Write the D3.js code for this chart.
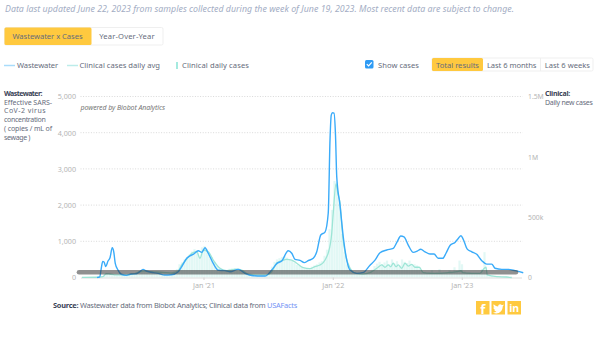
<!DOCTYPE html>
<html><head><meta charset="utf-8">
<script src="https://cdn.jsdelivr.net/npm/d3@7/dist/d3.min.js"></script>
<style>
html,body{margin:0;padding:0;background:#fff;overflow:hidden}
svg{display:block}
text{font-family:"Noto Sans",sans-serif}
</style></head><body><svg id="c" width="600" height="360"></svg>
<script>
const titleText="Data last updated June 22, 2023 from samples collected during the week of June 19, 2023. Most recent data are subject to change.";
const tabLabels=["Wastewater x Cases","Year-Over-Year"];
const legendLabels=["Wastewater","Clinical cases daily avg","Clinical daily cases"];
const rangeLabels=["Total results","Last 6 months","Last 6 weeks"];
const leftTicks=[0,1000,2000,3000,4000,5000];
const rightTicks=[0,500000,1000000,1500000];
const rightTickLabels=["0","500k","1M","1.5M"];
const xTickWeeks=[48.6,100.3,151.9];
const xTickLabels=["Jan '21","Jan '22","Jan '23"];
const leftNote=["Effective SARS-","CoV-2 virus","concentration","( copies / mL of","sewage )"];
const leftNoteWidths=[48,42,41.5,48,26];
const bandLevel=145;

// x = weeks since late January 2020
const wwWeeks=[6,6.4,7.1,7.7,8.3,8.8,9.5,10.4,11.2,12.1,12.7,13.3,14.4,15.7,17.7,19.7,21.7,23.1,24.4,25.7,27.7,30.4,33.1,35.7,38.5,39.9,41.9,43.2,44.5,46.5,47.9,49.2,50.5,52.5,54.5,57.2,59.2,62.5,65.2,68.5,71.9,73.2,75.9,78,79.9,82.5,83.9,85.2,87.2,88.9,90.5,92.5,93.9,95.5,97.2,98.5,99.2,99.7,100.2,100.8,101.4,101.9,103.2,104.5,105.9,107.2,109.9,112.5,115.2,117.2,119.2,121.9,124.5,126.1,127.5,128.8,130.5,132.5,134.1,135.5,137.2,139.2,140.8,142.5,144.3,145.6,147.2,149.2,150.5,151.6,152.5,154.1,155.9,157.9,159.9,161.9,163.9,165.2,167.9,170.5,173.2,176.5];
const wwValues=[0,5,15,255,445,430,300,455,545,820,710,390,205,90,60,95,105,160,225,180,145,115,70,75,160,300,530,600,640,740,695,820,670,390,200,190,160,225,115,50,40,40,205,390,455,740,670,500,475,410,465,530,710,1175,1255,1780,3795,4485,4550,4540,3930,2780,2000,1125,480,205,115,140,340,480,685,760,805,990,1145,1125,895,695,730,780,710,650,650,530,530,670,885,970,1080,1155,1055,785,710,640,465,370,370,255,225,225,190,130];

const avgWeeks=[0,6,8.4,9.7,11,13.7,17.2,20.4,24.4,27.6,32.4,35.7,38.4,39.9,41.9,43.9,45.9,47.2,48.5,50.5,52.5,55.2,57.9,61.9,63.9,66.5,69.9,73.9,75.9,77.9,79.9,81.9,83.9,85.9,88.5,91.2,93.2,95.2,96.5,97.9,98.5,99.9,100.5,101.6,102.3,103.2,104.3,105.6,107.2,109.2,112.4,115.2,116.5,118.5,119.9,121.2,122.5,123.5,124.5,125.6,126.5,127.9,129.2,130.5,131.9,133.2,134.9,136.5,139.2,143.2,146.5,149.9,151.6,152.3,155.2,159.2,160.9,161.6,162.1,165.9,169.9,171.9];
const avgValues=[1000,2000,7000,31000,29000,21000,21000,29000,54000,48000,43000,37000,54000,104000,153000,200000,214000,159000,228000,214000,145000,76000,56000,70000,62000,27000,21000,21000,48000,120000,139000,151000,145000,118000,81000,73000,90000,104000,123000,172000,203000,369000,535000,775000,700000,617000,338000,172000,79000,37000,29000,40000,56000,85000,104000,85000,104000,89000,118000,89000,104000,76000,118000,95000,109000,85000,85000,40000,35000,35000,40000,48000,56000,40000,35000,35000,76000,85000,21000,7000,4000,0];

// one value per week index, thousands of cases
const dailyThousands=[0,0,0,0,0,0,0,1,
8,30,35,30,28,25,22,24,
22,20,24,26,32,30,34,50,
62,50,45,52,44,40,42,46,
38,42,34,36,44,55,70,110,
125,150,170,190,215,235,220,170,
250,260,235,190,170,130,95,80,
65,58,60,72,75,78,68,60,
45,35,28,25,22,20,20,22,
20,25,30,55,90,130,150,160,
170,175,165,150,140,125,105,95,
85,80,78,75,90,100,110,125,
135,180,230,400,560,800,790,640,
360,210,110,70,45,38,30,28,
28,30,40,50,65,95,115,130,
110,125,140,110,150,115,135,100,
150,130,120,140,105,110,100,75,
50,42,38,45,60,38,42,70,
40,40,45,60,42,85,60,140,
110,50,40,45,38,35,32,30,
70,210,30,20,15,12,10,8,
6,5,4,3,2];

const YEL="#ffc93f",INK="#666c7c",GRAY="#b4b4b4";
const svg=d3.select("#c");
const x=d3.scaleLinear().domain([0,176.8]).range([82,524]);
const yL=d3.scaleLinear().domain([0,5000]).range([277.5,96.5]);
const yR=d3.scaleLinear().domain([0,1500000]).range([277.5,96.5]);

function fit(sel,w){const n=sel.node();const len=n.getNumberOfChars();const nat=n.getComputedTextLength();
 sel.attr("letter-spacing",(w-nat)/len);}
function t(px,py,s,o={}){const sel=svg.append("text").attr("x",px).attr("y",py).attr("dominant-baseline","central")
 .attr("font-size",o.size||7.6).attr("fill",o.fill||INK).attr("font-weight",o.weight||400)
 .attr("font-style",o.style||"normal").attr("text-anchor",o.anchor||"start").text(s);
 if(o.w)fit(sel,o.w);return sel;}

t(5,8.5,titleText,{size:8.8,style:"italic",fill:"#a3adc4",w:509});

// tabs
svg.append("rect").attr("x",4.5).attr("y",27.5).attr("width",158.5).attr("height",17.5).attr("rx",1.5).attr("fill","#fff").attr("stroke","#efefef");
svg.append("rect").attr("x",4.5).attr("y",27.5).attr("width",87).attr("height",17.5).attr("rx",1.5).attr("fill",YEL);
t(47.5,36,tabLabels[0],{anchor:"middle",w:70});
t(127,36,tabLabels[1],{anchor:"middle",w:55.5});

// legend
svg.append("line").attr("x1",4).attr("x2",15).attr("y1",65.5).attr("y2",65.5).attr("stroke","#a9dcfb").attr("stroke-width",1.5);
t(17,65,legendLabels[0],{w:41});
svg.append("line").attr("x1",67).attr("x2",78).attr("y1",65.5).attr("y2",65.5).attr("stroke","#bcecea").attr("stroke-width",1.5);
t(79.5,65,legendLabels[1],{w:80.5});
svg.append("rect").attr("x",176).attr("y",62).attr("width",2).attr("height",7).attr("fill","#a5eadf");
t(182,65,legendLabels[2],{w:67});

// checkbox
svg.append("rect").attr("x",365).attr("y",60).attr("width",8.5).attr("height",8.5).attr("rx",1.5).attr("fill","#2f9bf4");
svg.append("path").attr("d",d3.line()([[366.8,64.2],[368.6,66],[371.8,62.4]])).attr("fill","none").attr("stroke","#fff").attr("stroke-width",1.2);
t(378,64.5,"Show cases",{w:41});

// range buttons
svg.append("rect").attr("x",432).attr("y",58).attr("width",161).attr("height",13).attr("rx",1.5).attr("fill","#fff").attr("stroke","#efefef");
svg.append("rect").attr("x",432).attr("y",58).attr("width",51).attr("height",13).attr("rx",1.5).attr("fill",YEL);
svg.append("line").attr("x1",540.5).attr("x2",540.5).attr("y1",58).attr("y2",71).attr("stroke","#efefef");
t(457.5,64.5,rangeLabels[0],{anchor:"middle",w:43});
t(511.7,64.5,rangeLabels[1],{anchor:"middle",w:49.5});
t(567.3,64.5,rangeLabels[2],{anchor:"middle",w:45.3});

// grid
svg.append("g").selectAll("line").data(leftTicks.slice(1)).join("line")
 .attr("x1",80.5).attr("x2",522.7).attr("y1",d=>yL(d)).attr("y2",d=>yL(d))
 .attr("stroke","#d9d9d9").attr("stroke-dasharray","1 1.6");

// bars
svg.append("g").selectAll("rect").data(dailyThousands).join("rect")
 .attr("x",(d,i)=>x(i)-1.1).attr("width",2.2)
 .attr("y",d=>yR(d*1000)).attr("height",d=>yR(0)-yR(d*1000))
 .attr("fill","#a5eadf").attr("opacity",0.32);

// axes
const ax=svg.append("g").attr("transform","translate(0,277.5)").call(d3.axisBottom(x).tickValues(xTickWeeks).tickFormat((d,i)=>xTickLabels[i]).tickSize(2.5).tickPadding(3));
ax.select(".domain").attr("stroke","#dedede").attr("d","M81,0.5H522");
ax.selectAll("line").attr("stroke","#d5d5d5");
const al=svg.append("g").attr("transform","translate(77.5,0)").call(d3.axisLeft(yL).tickValues(leftTicks).tickFormat(d3.format(",")).tickSize(0).tickPadding(1.5));
al.select(".domain").remove();
const ar=svg.append("g").attr("transform","translate(526,0)").call(d3.axisRight(yR).tickValues(rightTicks).tickFormat((d,i)=>rightTickLabels[i]).tickSize(0).tickPadding(2));
ar.select(".domain").remove();
svg.selectAll(".tick text").attr("fill",GRAY).attr("font-size",7.2).attr("font-family",'"Noto Sans",sans-serif');
ar.selectAll(".tick text").attr("font-size",6.8);

// lines
const lineGen=(xs,yScale)=>d3.line().x((d,i)=>x(xs[i])).y(d=>yScale(d)).curve(d3.curveMonotoneX);
svg.append("path").datum(avgValues).attr("d",lineGen(avgWeeks,yR)).attr("fill","none").attr("stroke","#9de5d6").attr("stroke-width",1.3);
svg.append("path").datum(wwValues).attr("d",lineGen(wwWeeks,yL)).attr("fill","none").attr("stroke","#3aabf9").attr("stroke-width",1.4);

// band
svg.append("line").attr("x1",x(-1.2)).attr("x2",x(173.6)).attr("y1",yL(bandLevel)).attr("y2",yL(bandLevel))
 .attr("stroke","rgb(60,60,60)").attr("stroke-opacity",0.57).attr("stroke-width",4.6).attr("stroke-linecap","round");

// side notes
t(4,93,"Wastewater:",{size:7,weight:700,fill:"#3a4256",w:38});
leftNote.forEach((s,i)=>t(4,102+i*8.9,s,{size:7,w:leftNoteWidths[i]}));
t(545,93,"Clinical:",{size:7,weight:700,fill:"#3a4256",w:25});
t(545,102.3,"Daily new cases",{size:7,w:47.5});
t(80.5,107,"powered by Biobot Analytics",{size:7,style:"italic",fill:"#777",w:84.5});

// source
const src=svg.append("text").attr("x",53).attr("y",305).attr("dominant-baseline","central").attr("font-size",7.4).attr("fill",INK);
src.append("tspan").attr("font-weight",700).attr("fill","#3a4256").text("Source:");
src.append("tspan").text(" Wastewater data from Biobot Analytics; Clinical data from ");
src.append("tspan").attr("fill","#7393f5").text("USAFacts");
fit(src,244);

// share icons
const iconX=[476,491.5,507.5];
iconX.forEach(ix=>svg.append("rect").attr("x",ix).attr("y",301).attr("width",13.5).attr("height",13.5).attr("fill",YEL));
t(482.7,308.5,"f",{anchor:"middle",size:13,weight:700,fill:"#fff"});
svg.append("path").attr("transform","translate(492.7,302.5)")
 .attr("d","M11,2 C10.2,2.4 9.6,2.5 9,2.6 C8.2,1.2 5.6,1.3 5.4,3.9 C3.6,3.8 2,2.9 1,1.7 C0.4,3 0.9,4.3 1.8,5 C1.3,5 0.9,4.9 0.6,4.7 C0.7,6 1.5,6.9 2.7,7.3 C2.3,7.4 1.9,7.4 1.5,7.3 C1.9,8.3 2.8,8.9 3.8,9 C2.8,9.8 1.5,10.1 0.2,10 C4.8,12.6 10,9.6 10,4 C10.5,3.6 10.8,2.8 11,2 Z")
 .attr("fill","#fff");
t(514.2,308,"in",{anchor:"middle",size:10.5,weight:700,fill:"#fff"});
</script></body></html>
